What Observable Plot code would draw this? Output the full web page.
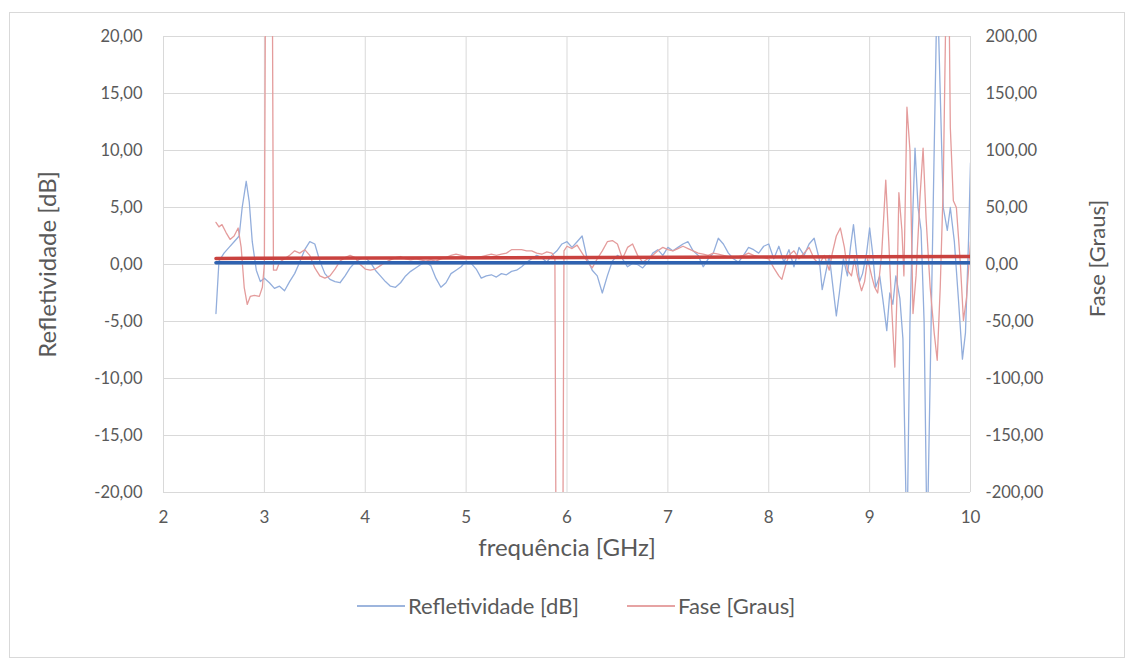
<!DOCTYPE html>
<html>
<head>
<meta charset="utf-8">
<script src="https://cdn.jsdelivr.net/npm/d3@7"></script>
<script src="https://cdn.jsdelivr.net/npm/@observablehq/plot@0.6"></script>
<style>
  body { margin: 0; background: #fff; font-family: Lato, "Open Sans", sans-serif; }
  #wrap { position: relative; width: 1135px; height: 668px; overflow: hidden; }
  #frame { position: absolute; left: 9px; top: 12px; width: 1116px; height: 646px; border: 1px solid #d9d9d9; box-sizing: border-box; }
  #chart { position: absolute; left: 0; top: 0; }
  #legend { position: absolute; top: 592px; left: 0; width: 1135px; font-size: 22px; line-height: 28px; color: #595959; }
  .item { position: absolute; display: flex; align-items: center; white-space: nowrap; }
  .sw { width: 48px; height: 2px; margin-right: 3px; }
</style>
</head>
<body>
<div id="wrap">
  <div id="frame"></div>
  <div id="chart"></div>
  <div id="legend">
    <div class="item" style="left:357px;top:0"><span class="sw" style="background:#9db5dd"></span><span id="l1"></span></div>
    <div class="item" style="left:627px;top:0"><span class="sw" style="background:#e6a3a3"></span><span id="l2"></span></div>
  </div>
</div>
<script>
// ---- data ----
const seriesNames = ["Refletividade [dB]", "Fase [Graus]"];
const xTitle = "frequência [GHz]";
const xTicks = [2, 3, 4, 5, 6, 7, 8, 9, 10];
const yTicksDb = [-20, -15, -10, -5, 0, 5, 10, 15, 20];

const freqRefl = [2.52,2.55,2.6,2.65,2.7,2.75,2.78,2.82,2.85,2.88,2.92,2.96,3.0,3.05,3.1,3.15,3.2,3.25,3.3,3.35,3.4,3.45,3.5,3.55,3.6,3.65,3.7,3.75,3.8,3.85,3.9,3.95,4.0,4.05,4.1,4.15,4.2,4.25,4.3,4.35,4.4,4.45,4.5,4.55,4.6,4.65,4.7,4.75,4.8,4.85,4.9,4.95,5.0,5.05,5.1,5.15,5.2,5.25,5.3,5.35,5.4,5.45,5.5,5.55,5.6,5.65,5.7,5.75,5.8,5.85,5.9,5.95,6.0,6.05,6.1,6.15,6.2,6.25,6.3,6.35,6.4,6.45,6.5,6.55,6.6,6.65,6.7,6.75,6.8,6.85,6.9,6.95,7.0,7.05,7.1,7.15,7.2,7.25,7.3,7.35,7.4,7.45,7.5,7.55,7.6,7.65,7.7,7.75,7.8,7.85,7.9,7.95,8.0,8.05,8.1,8.15,8.2,8.25,8.3,8.35,8.4,8.45,8.5,8.53,8.57,8.6,8.63,8.67,8.7,8.74,8.78,8.81,8.84,8.87,8.9,8.93,8.97,9.0,9.03,9.06,9.1,9.13,9.17,9.2,9.23,9.26,9.3,9.33,9.37,9.4,9.43,9.45,9.48,9.51,9.54,9.57,9.6,9.63,9.67,9.7,9.73,9.77,9.8,9.84,9.88,9.92,9.95,9.98,10.0];
const refletividade = [-4.3,0.3,1.0,1.5,2.0,2.5,5.0,7.3,5.5,2.0,-0.5,-1.5,-1.2,-1.6,-2.1,-1.9,-2.3,-1.5,-0.8,0.2,1.3,2.0,1.8,0.3,-0.8,-1.3,-1.5,-1.6,-1.0,-0.3,0.2,0.5,0.6,0.2,-0.5,-1.0,-1.5,-1.9,-2.0,-1.6,-1.0,-0.6,-0.3,0.0,0.2,-0.1,-1.2,-2.0,-1.6,-0.8,-0.5,-0.2,0.3,0.1,-0.4,-1.2,-1.0,-0.9,-1.1,-0.8,-0.9,-0.6,-0.5,-0.2,0.2,0.5,0.8,0.6,0.2,0.8,1.2,1.8,2.0,1.5,2.0,2.5,0.5,-0.5,-1.0,-2.5,-1.0,0.3,0.8,0.5,-0.2,0.1,0.0,-0.3,0.2,1.0,1.3,0.8,1.5,1.2,1.5,1.8,2.0,1.2,0.8,-0.2,0.5,1.0,2.3,1.8,1.0,0.5,0.2,0.8,1.5,1.3,1.0,1.6,1.8,0.5,1.6,0.2,1.3,-0.2,1.5,0.8,1.8,2.3,0.5,-2.2,-0.5,0.8,-1.5,-4.5,-2.5,0.5,-1.0,1.5,3.5,1.0,-1.5,-0.8,1.0,3.2,1.0,-2.0,-1.0,-3.0,-5.8,-2.5,-3.5,-1.0,-3.0,-6.5,-25,-5,5,10.2,5.0,3.0,-5,-25,-10,5,25,15,5,3,5.0,2.0,-3.0,-8.3,-6,2,8.9];

const freqFase = [2.52,2.55,2.58,2.62,2.66,2.7,2.74,2.77,2.8,2.83,2.86,2.9,2.95,2.98,3.0,3.02,3.07,3.09,3.12,3.15,3.2,3.25,3.3,3.35,3.4,3.45,3.5,3.55,3.6,3.65,3.7,3.75,3.8,3.85,3.9,3.95,4.0,4.05,4.1,4.15,4.2,4.25,4.3,4.35,4.4,4.45,4.5,4.55,4.6,4.65,4.7,4.75,4.8,4.85,4.9,4.95,5.0,5.05,5.1,5.15,5.2,5.25,5.3,5.35,5.4,5.45,5.5,5.55,5.6,5.65,5.7,5.75,5.8,5.85,5.88,5.9,5.95,5.97,6.0,6.05,6.1,6.15,6.2,6.25,6.3,6.35,6.4,6.45,6.5,6.55,6.6,6.65,6.7,6.75,6.8,6.85,6.9,6.95,7.0,7.05,7.1,7.15,7.2,7.25,7.3,7.35,7.4,7.45,7.5,7.55,7.6,7.65,7.7,7.75,7.8,7.85,7.9,7.95,8.0,8.05,8.1,8.13,8.17,8.2,8.25,8.3,8.35,8.4,8.45,8.5,8.55,8.6,8.63,8.67,8.71,8.75,8.78,8.82,8.85,8.88,8.92,8.95,8.98,9.02,9.05,9.08,9.12,9.16,9.19,9.22,9.25,9.27,9.29,9.32,9.34,9.37,9.4,9.43,9.46,9.5,9.53,9.56,9.6,9.64,9.67,9.7,9.73,9.76,9.78,9.8,9.83,9.86,9.9,9.93,9.96,10.0];
const fase = [37,33,35,28,22,25,32,15,-20,-35,-28,-27,-28,-20,0,450,450,-5,-5,2,5,8,12,10,13,8,-3,-10,-12,-10,-4,3,6,8,6,0,-4,-5,-4,-1,2,4,6,7,5,4,5,4,3,4,3,5,6,8,9,8,7,6,6,7,8,9,8,9,10,13,13,13,12,12,10,9,11,10,6,-450,-450,12,16,14,17,10,3,-3,5,12,20,21,18,5,15,18,8,2,5,8,12,15,13,12,14,16,14,12,10,9,8,10,9,8,7,6,7,8,10,8,7,6,5,-3,-10,-13,0,8,12,5,10,15,5,0,8,-5,10,25,32,15,-5,-10,5,-10,-23,-15,5,-10,-20,-25,10,74,20,-40,-90,-30,63,30,-10,138,100,-43,-10,60,102,40,-20,-60,-84,-20,70,250,300,120,56,50,0,-49,-30,20];

// linear trends (start/end)
const trendFreq = [2.52, 10.0];
const trendRefl = [0.15, 0.15];
const trendFase = [5.3, 7.0];

// ---- build ----
const fmt = v => d3.format(".2f")(v).replace(".", ",").replace("\u2212", "-");
const reflData = freqRefl.map((f, i) => ({f, v: refletividade[i]}));
const faseData = freqFase.map((f, i) => ({f, v: fase[i]}));
const trendR = trendFreq.map((f, i) => ({f, v: trendRefl[i]}));
const trendF = trendFreq.map((f, i) => ({f, v: trendFase[i]}));

const grid = "#d9d9d9";
const chart = Plot.plot({
  width: 1135,
  height: 580,
  marginTop: 36,
  marginBottom: 88,
  marginLeft: 163,
  marginRight: 165,
  style: {fontFamily: "Lato, 'Open Sans', sans-serif", fontSize: "16px", color: "#595959", background: "transparent"},
  x: {domain: [2, 10]},
  y: {domain: [-20, 20]},
  marks: [
    Plot.gridY(yTicksDb, {stroke: grid, strokeOpacity: 1, strokeWidth: 1}),
    Plot.gridX(xTicks, {stroke: grid, strokeOpacity: 1, strokeWidth: 1}),
    Plot.axisX(xTicks, {tickSize: 0, tickPadding: 18, label: null, fontSize: 17, tickFormat: d => String(d)}),
    Plot.axisY(yTicksDb, {anchor: "left", tickSize: 0, tickPadding: 21, label: null, fontSize: 16.5, tickFormat: fmt}),
    Plot.axisY(yTicksDb, {anchor: "right", tickSize: 0, tickPadding: 15, label: null, fontSize: 16.5, tickFormat: d => fmt(d * 10)}),
    Plot.line(reflData, {x: "f", y: "v", stroke: "#93aedc", strokeWidth: 1.3, clip: true}),
    Plot.line(faseData, {x: "f", y: d => d.v / 10, stroke: "#e49c9c", strokeWidth: 1.3, clip: true}),
    Plot.line(trendR, {x: "f", y: "v", stroke: "#2f62b0", strokeWidth: 3.5, clip: true}),
    Plot.line(trendF, {x: "f", y: d => d.v / 10, stroke: "#c9423f", strokeWidth: 3.5, clip: true}),
    Plot.text([seriesNames[0]], {frameAnchor: "left", textAnchor: "middle", rotate: -90, dx: -115, fontSize: 24, fill: "#595959"}),
    Plot.text([seriesNames[1]], {frameAnchor: "right", textAnchor: "middle", rotate: -90, dx: 127, dy: -6, fontSize: 22, fill: "#595959"}),
    Plot.text([xTitle], {frameAnchor: "bottom", dy: 63, fontSize: 24, fill: "#595959"})
  ]
});
document.getElementById("chart").appendChild(chart);
document.getElementById("l1").textContent = seriesNames[0];
document.getElementById("l2").textContent = seriesNames[1];
</script>
</body>
</html>
